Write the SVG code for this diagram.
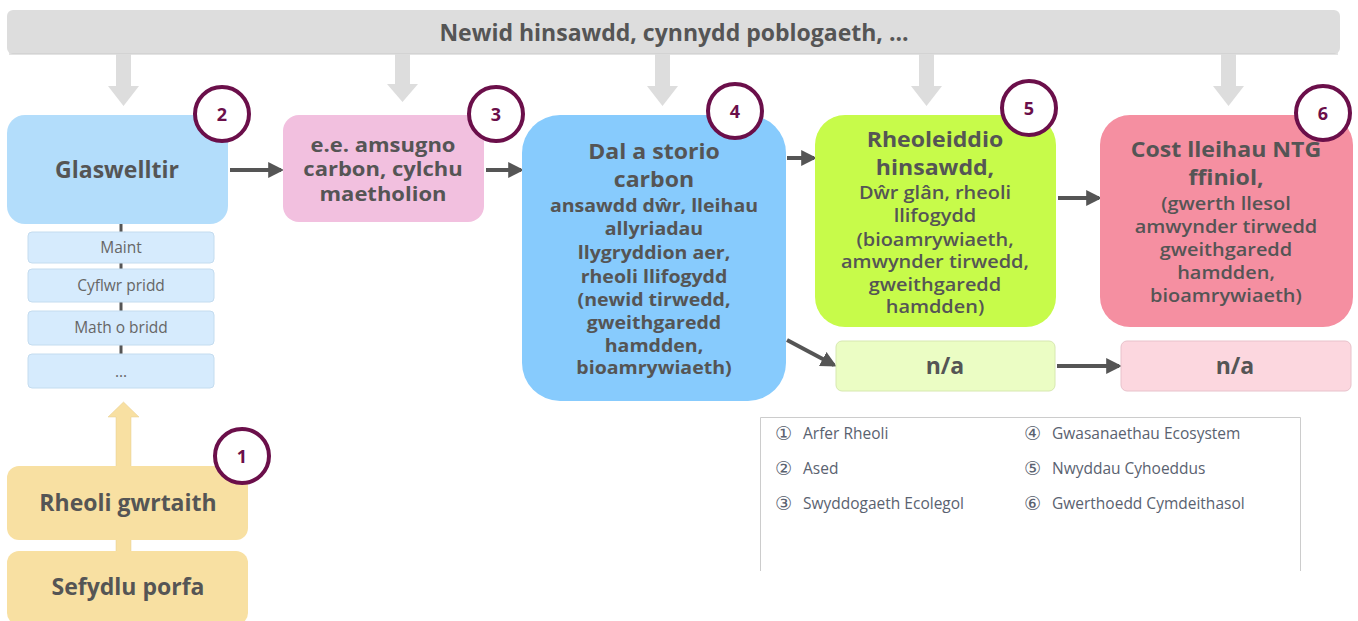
<svg xmlns="http://www.w3.org/2000/svg" width="1358" height="621" viewBox="0 0 1358 621">
<defs>
<style>
text{font-family:"Open Sans","Noto Sans","Liberation Sans",sans-serif;fill:#555555;text-anchor:middle}
.b{font-weight:700}
.t22{font-size:23px;font-weight:700}
.h{font-size:21px;font-weight:700;transform-box:fill-box;transform-origin:center;transform:scaleX(1.1)}
.h3{font-size:20px;font-weight:700;transform-box:fill-box;transform-origin:center;transform:scaleX(1.1)}
.s{font-size:17px;font-weight:700;transform-box:fill-box;transform-origin:center;transform:scaleX(1.15)}
.ss{font-size:17.5px;font-weight:600;transform-box:fill-box;transform-origin:center;transform:scaleX(1.14)}
.sub{font-size:15.5px;fill:#666666}
.badge circle{fill:#ffffff;stroke:#6b0f4a;stroke-width:4}
.badge text{fill:#6b0f4a;font-size:18px;font-weight:700}
.conn{stroke:#555555;stroke-width:4;fill:none}
.leg{font-size:15.5px;fill:#5a6270;text-anchor:start}
.legn{font-size:19px;fill:#5a6270;text-anchor:start;font-family:"DejaVu Sans",sans-serif}
.gray{fill:#dddddd}
</style>
<marker id="ah" markerWidth="4" markerHeight="4" refX="3.2" refY="2" orient="auto" markerUnits="strokeWidth">
<path d="M0,0 L4,2 L0,4 z" fill="#555555"/>
</marker>
</defs>
<rect width="1358" height="621" fill="#ffffff"/>

<g id="banner">
<rect x="7" y="10" width="1333" height="44" rx="6" class="gray"/>
<line x1="9" y1="54" x2="1338" y2="54" stroke="#c8c8c8" stroke-width="1"/>
<text x="674" y="41" class="b" font-size="23">Newid hinsawdd, cynnydd poblogaeth, ...</text>
<path d="M116,54 h15 v32 h8 l-15.5,20 l-15.5,-20 h8 z" class="gray"/>
<path d="M395,54 h15 v30 h8 l-15.5,18 l-15.5,-18 h8 z" class="gray"/>
<path d="M655,54 h15 v32 h8 l-15.5,20 l-15.5,-20 h8 z" class="gray"/>
<path d="M919,54 h15 v32 h8 l-15.5,20 l-15.5,-20 h8 z" class="gray"/>
<path d="M1221,54 h15 v32 h8 l-15.5,20 l-15.5,-20 h8 z" class="gray"/>
</g>

<g id="connectors">
<line x1="121" y1="223" x2="121" y2="355" stroke="#555555" stroke-width="3"/>
<line x1="230" y1="170" x2="281" y2="170" class="conn" marker-end="url(#ah)"/>
<line x1="486" y1="170" x2="521" y2="170" class="conn" marker-end="url(#ah)"/>
<line x1="787" y1="158" x2="814" y2="158" class="conn" marker-end="url(#ah)"/>
<line x1="1058" y1="198" x2="1099" y2="198" class="conn" marker-end="url(#ah)"/>
<line x1="787" y1="340" x2="834" y2="365" class="conn" marker-end="url(#ah)"/>
<line x1="1057" y1="366" x2="1119" y2="366" class="conn" marker-end="url(#ah)"/>
</g>

<g id="node-glaswelltir">
<rect x="7" y="115" width="221" height="109" rx="18" fill="#b3ddfb"/>
<text x="117" y="178" class="t22">Glaswelltir</text>
</g>
<g id="sub-maint">
<rect x="28" y="232" width="186" height="31" rx="4" fill="#d6ebfd" stroke="#c4dcef" stroke-width="1"/>
<text x="121" y="253" class="sub">Maint</text>
</g>
<g id="sub-cyflwr">
<rect x="28" y="269" width="186" height="33" rx="4" fill="#d6ebfd" stroke="#c4dcef" stroke-width="1"/>
<text x="121" y="291" class="sub">Cyflwr pridd</text>
</g>
<g id="sub-math">
<rect x="28" y="311" width="186" height="34" rx="4" fill="#d6ebfd" stroke="#c4dcef" stroke-width="1"/>
<text x="121" y="333" class="sub">Math o bridd</text>
</g>
<g id="sub-dots">
<rect x="28" y="354" width="186" height="34" rx="4" fill="#d6ebfd" stroke="#c4dcef" stroke-width="1"/>
<text x="121" y="377" class="sub">...</text>
</g>

<g id="node-rheoli">
<path d="M116,467 v-50 h-8 l15.5,-15 l15.5,15 h-8 v50 z M116,539 h15 v14 h-15 z" fill="#f8e0a2" stroke="#e6cd8c" stroke-width="0.5"/>
<rect x="7" y="466" width="241" height="74" rx="12" fill="#f8e0a2"/>
<text x="128" y="511" class="t22">Rheoli gwrtaith</text>
</g>
<g id="node-sefydlu">
<rect x="7" y="551" width="241" height="74" rx="12" fill="#f8e0a2"/>
<text x="128" y="595" class="t22">Sefydlu porfa</text>
</g>

<g id="node-swyddogaeth">
<rect x="283" y="115" width="201" height="107" rx="16" fill="#f2c0df"/>
<text x="383" y="152" class="h3">e.e. amsugno</text>
<text x="383" y="176" class="h3">carbon, cylchu</text>
<text x="383" y="201" class="h3">maetholion</text>
</g>

<g id="node-gwasanaethau">
<rect x="522" y="115" width="264" height="286" rx="38" fill="#87cbfd"/>
<text x="654" y="159" class="h">Dal a storio</text>
<text x="654" y="187" class="h">carbon</text>
<text x="654" y="212" class="s">ansawdd dŵr, lleihau</text>
<text x="654" y="235" class="s">allyriadau</text>
<text x="654" y="259" class="s">llygryddion aer,</text>
<text x="654" y="283" class="s">rheoli llifogydd</text>
<text x="654" y="306" class="s">(newid tirwedd,</text>
<text x="654" y="329" class="s">gweithgaredd</text>
<text x="654" y="352" class="s">hamdden,</text>
<text x="654" y="374" class="s">bioamrywiaeth)</text>
</g>

<g id="node-nwyddau">
<rect x="815" y="115" width="241" height="212" rx="30" fill="#c7fb4a"/>
<text x="935" y="147" class="h">Rheoleiddio</text>
<text x="935" y="175" class="h">hinsawdd,</text>
<text x="935" y="199" class="ss">Dŵr glân, rheoli</text>
<text x="935" y="222" class="ss">llifogydd</text>
<text x="935" y="246" class="ss">(bioamrywiaeth,</text>
<text x="935" y="268" class="ss">amwynder tirwedd,</text>
<text x="935" y="291" class="ss">gweithgaredd</text>
<text x="935" y="313" class="ss">hamdden)</text>
</g>

<g id="node-gwerthoedd">
<rect x="1100" y="115" width="253" height="212" rx="30" fill="#f58fa1"/>
<text x="1226" y="157" class="h">Cost lleihau NTG</text>
<text x="1226" y="185" class="h">ffiniol,</text>
<text x="1226" y="210" class="ss">(gwerth llesol</text>
<text x="1226" y="233" class="ss">amwynder tirwedd</text>
<text x="1226" y="256" class="ss">gweithgaredd</text>
<text x="1226" y="279" class="ss">hamdden,</text>
<text x="1226" y="302" class="ss">bioamrywiaeth)</text>
</g>

<g id="node-na-green">
<rect x="836" y="341" width="219" height="50" rx="6" fill="#ebfdc4" stroke="#d7e8b0" stroke-width="1"/>
<text x="945" y="374" class="t22" font-size="22">n/a</text>
</g>
<g id="node-na-pink">
<rect x="1121" y="341" width="230" height="50" rx="6" fill="#fcd7df" stroke="#e8c2cb" stroke-width="1"/>
<text x="1235" y="374" class="t22" font-size="22">n/a</text>
</g>

<g id="badge-1" class="badge"><circle cx="242" cy="456" r="27"/><text x="242" y="463">1</text></g>
<g id="badge-2" class="badge"><circle cx="222" cy="114" r="27"/><text x="222" y="121">2</text></g>
<g id="badge-3" class="badge"><circle cx="496" cy="114" r="27"/><text x="496" y="121">3</text></g>
<g id="badge-4" class="badge"><circle cx="735" cy="111" r="27"/><text x="735" y="118">4</text></g>
<g id="badge-5" class="badge"><circle cx="1029" cy="108" r="27"/><text x="1029" y="115">5</text></g>
<g id="badge-6" class="badge"><circle cx="1323" cy="113" r="27"/><text x="1323" y="120">6</text></g>

<g id="legend">
<path d="M760.5,571 V417.5 H1300.5 V571" fill="#ffffff" stroke="#cccccc" stroke-width="1"/>
<text x="775" y="440" class="legn">①</text>
<text x="803" y="439" class="leg">Arfer Rheoli</text>
<text x="775" y="475" class="legn">②</text>
<text x="803" y="474" class="leg">Ased</text>
<text x="775" y="510" class="legn">③</text>
<text x="803" y="509" class="leg">Swyddogaeth Ecolegol</text>
<text x="1024" y="440" class="legn">④</text>
<text x="1052" y="439" class="leg">Gwasanaethau Ecosystem</text>
<text x="1024" y="475" class="legn">⑤</text>
<text x="1052" y="474" class="leg">Nwyddau Cyhoeddus</text>
<text x="1024" y="510" class="legn">⑥</text>
<text x="1052" y="509" class="leg">Gwerthoedd Cymdeithasol</text>
</g>
</svg>
